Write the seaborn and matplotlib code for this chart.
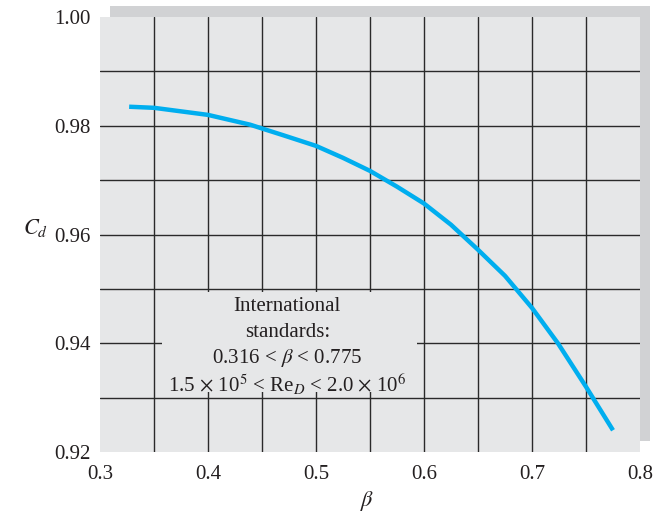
import numpy as np
import seaborn as sns
import matplotlib.pyplot as plt
from matplotlib.patches import Rectangle

# values
beta = [0.327, 0.35, 0.40, 0.439, 0.45, 0.469, 0.50, 0.525, 0.55, 0.575, 0.60,
        0.625, 0.65, 0.675, 0.70, 0.724, 0.75, 0.775]
cd = [0.9835, 0.9833, 0.9820, 0.9802, 0.9795, 0.9783, 0.9763, 0.9741, 0.9717,
      0.9688, 0.9657, 0.9618, 0.9572, 0.9524, 0.9465, 0.9400, 0.9320, 0.9240]

x_ticks = [0.3, 0.4, 0.5, 0.6, 0.7, 0.8]
y_ticks = [0.92, 0.94, 0.96, 0.98, 1.00]
x_grid = [0.35, 0.40, 0.45, 0.50, 0.55, 0.60, 0.65, 0.70, 0.75]
y_grid = [0.93, 0.94, 0.95, 0.96, 0.97, 0.98, 0.99]

note_lines = [
    "International",
    "standards:",
    r"0.316 < $\beta$ < 0.775",
    r"1.5 $\times$ 10$^5$ < Re$_D$ < 2.0 $\times$ 10$^6$",
]

sns.set_style("white")
plt.rcParams["font.family"] = "serif"
plt.rcParams["font.serif"] = ["Liberation Serif", "DejaVu Serif"]
plt.rcParams["mathtext.fontset"] = "stix"

bg = "#e6e7e8"
shadow = "#d1d2d4"
gridc = "#2a2a2a"
blue = "#00aeef"
ink = "#231f20"

fig = plt.figure(figsize=(6.53, 5.14), dpi=100)
ax = fig.add_axes([0.1531, 0.1206, 0.8270, 0.8463])

# offset grey panel behind the plot
fig.patches.append(Rectangle((0.1685, 0.142), 0.8270, 0.8463, transform=fig.transFigure,
                             facecolor=shadow, edgecolor="none", zorder=-1))

ax.set_facecolor(bg)
for s in ax.spines.values():
    s.set_visible(False)

for xv in x_grid:
    ax.axvline(xv, color=gridc, lw=1.0, zorder=0.5)
for yv in y_grid:
    ax.axhline(yv, color=gridc, lw=1.0, zorder=0.5)

# blank box behind the note
ax.add_patch(Rectangle((0.357, 0.9310), 0.5935 - 0.357, 0.9494 - 0.9310,
                       facecolor=bg, edgecolor="none", zorder=1))

sns.lineplot(x=beta, y=cd, color=blue, lw=3.2, ax=ax, zorder=2,
             solid_joinstyle="round", solid_capstyle="butt")

ax.set_xlim(0.3, 0.8)
ax.set_ylim(0.92, 1.00)
ax.set_xticks(x_ticks)
ax.set_xticklabels([f"{v:.1f}" for v in x_ticks])
ax.set_yticks(y_ticks)
ax.set_yticklabels([f"{v:.2f}" for v in y_ticks])
ax.tick_params(length=0, labelsize=15, colors=ink, pad=7)
ax.tick_params(axis="x", pad=9)

ax.set_xlabel(r"$\beta$", fontsize=16, color=ink)
ax.xaxis.set_label_coords(0.495, -0.085)
ax.set_ylabel(r"$C_d$", fontsize=16, rotation=0, va="center", ha="center", color=ink)
ax.yaxis.set_label_coords(-0.1185, 0.515)

for i, line in enumerate(note_lines):
    ax.text(0.4735, 0.9468 - i * 0.0048, line, ha="center", va="center",
            fontsize=15, color=ink, zorder=3)

fig.savefig("out.png", dpi=100)
